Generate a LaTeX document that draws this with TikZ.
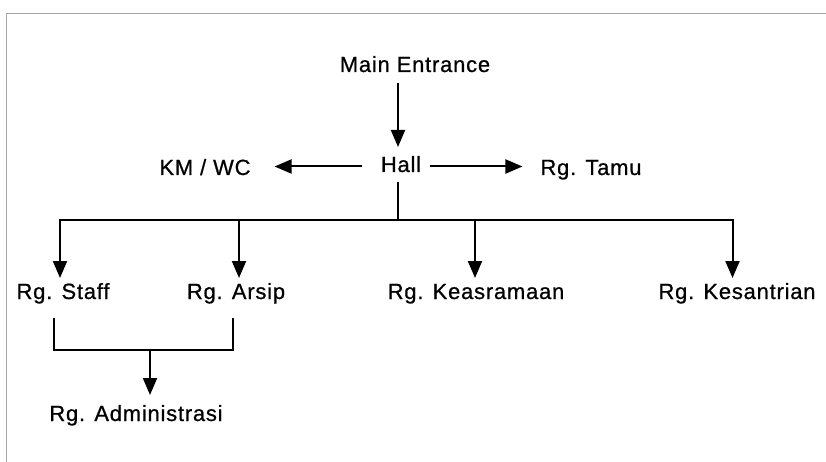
\documentclass[tikz,border=0pt]{standalone}
\usepackage{fontspec}
\usetikzlibrary{arrows.meta}
\newfontfamily\labelfont[LetterSpace=3.5,FakeBold=0.7]{Liberation Sans}
\tikzset{
  room/.style={inner sep=0pt, outer sep=0pt, anchor=base, text height=15pt, text depth=4pt,
    font=\labelfont\fontsize{22}{25}\selectfont},
  link/.style={line width=2pt, black},
  arr/.style={link, -{Triangle[length=17pt,width=14pt]}},
  frameline/.style={gray!70, line width=0.8pt}
}
\begin{document}
\begin{tikzpicture}[x=1pt,y=-1pt]
  \useasboundingbox (0,0) rectangle (826,462);
  % open frame: top and left edges
  \draw[frameline] (6,462) -- (6,13) -- (826,13);

  % rooms
  \node[room] (entrance) at (415,72)  {Main Entrance};
  \node[room] (hall)     at (401,172) {Hall};
  \node[room] (kmwc)     at (205,175) {KM / WC};
  \node[room] (tamu)     at (591,175) {Rg. Tamu};
  \node[room] (staff)    at (63,299)  {Rg. Staff};
  \node[room] (arsip)    at (236,299) {Rg. Arsip};
  \node[room] (keas)     at (476,299) {Rg. Keasramaan};
  \node[room] (kesan)    at (737,299) {Rg. Kesantrian};
  \node[room] (admin)    at (136,421) {Rg. Administrasi};

  % junction points
  \coordinate (split) at (398,220);
  \coordinate (join)  at (150,350);

  % entrance to hall
  \draw[arr, shorten <=7pt, shorten >=10pt] (entrance.south -| split) -- (hall.north -| split);
  % hall to the side rooms
  \draw[arr, shorten <=19pt, shorten >=24pt] (hall.west) -- (hall.west -| kmwc.east);
  \draw[arr, shorten <=9pt, shorten >=18pt] (hall.east) -- (hall.east -| tamu.west);

  % hall down to the distribution line
  \draw[link, shorten <=6pt] (split |- hall.south) -- (split);
  \draw[arr, shorten >=6pt] (split) -| ([xshift=-3pt]staff.north);
  \draw[arr, shorten >=6pt] (split) -| ([xshift=3pt]arsip.north);
  \draw[arr, shorten >=6pt] (split) -| ([xshift=-1pt]keas.north);
  \draw[arr, shorten >=6pt] (split) -| ([xshift=-4.5pt]kesan.north);

  % staff and archive joined to administration
  \draw[link, shorten <=15pt, shorten >=15pt]
    ([xshift=-9pt]staff.south) |- (join) -| ([xshift=-3.5pt]arsip.south);
  \draw[arr, shorten >=11pt] (join) -- (join |- admin.north);
\end{tikzpicture}
\end{document}
